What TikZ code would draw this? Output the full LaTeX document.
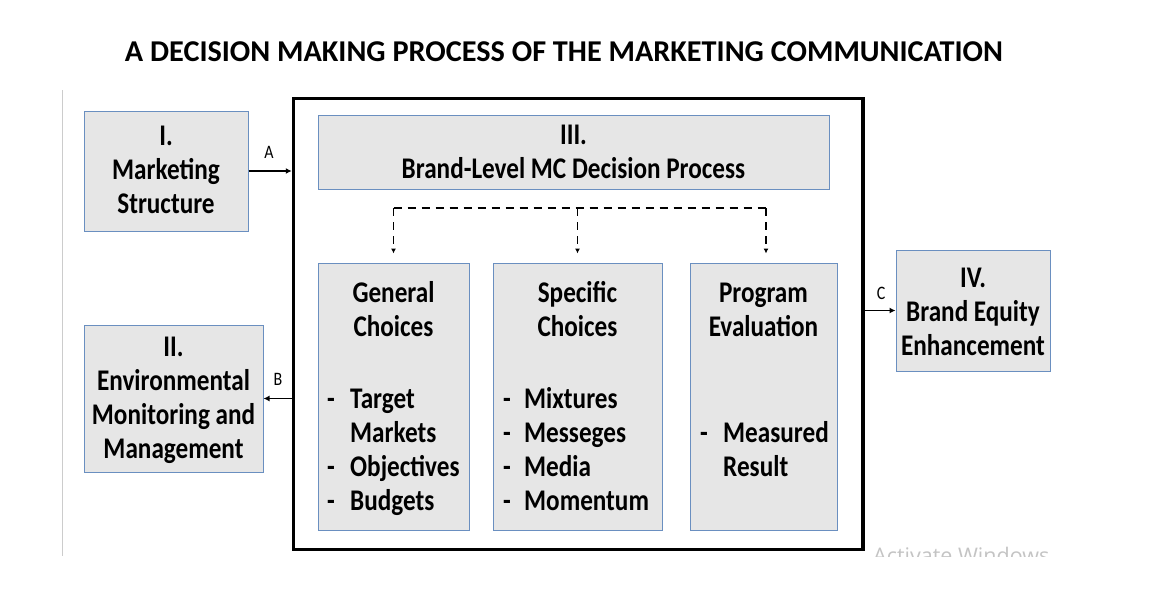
\documentclass[tikz,border=0pt]{standalone}
\usepackage{fontspec}
\setmainfont{Carlito}
\newfontfamily\bodyfont[FakeStretch=0.84]{Carlito}
\newfontfamily\wmfont{Open Sans}
\usetikzlibrary{arrows.meta}
\definecolor{boxfill}{HTML}{E6E6E6}
\definecolor{boxline}{HTML}{6A8FC0}
\definecolor{wmgray}{HTML}{C4C4C4}
\newcommand\dsh[1]{\makebox[#1][l]{-}}
\tikzset{
  box/.style={draw=boxline, fill=boxfill, line width=1pt, inner sep=0pt},
  outerbox/.style={draw=black, line width=3.5pt, inner sep=0pt},
  btxt/.style={inner sep=0pt, anchor=base, font=\bodyfont\bfseries\fontsize{30}{34}\selectfont},
  ltxt/.style={inner sep=0pt, anchor=base, font=\bodyfont\fontsize{19}{22}\selectfont},
  arr/.style={line width=1.8pt, -{Latex[length=6pt,width=6pt]}},
  dasharr/.style={line width=1.6pt, dash pattern=on 8pt off 6pt, -{Latex[length=5pt,width=5pt]}, shorten >=9pt},
  dashline/.style={line width=1.6pt, dash pattern=on 8pt off 6pt}
}
\begin{document}
\begin{tikzpicture}[x=1pt,y=-1pt]
\useasboundingbox[fill=white] (0,0) rectangle (1168,590);
% left gray rule
\draw[draw=gray!40, line width=1pt] (62,90) coordinate (r1) -- (62,556) coordinate (r2);
% title
\node[inner sep=0pt, anchor=base] (title) at (564,61)
  {\resizebox{878pt}{!}{\bfseries A DECISION MAKING PROCESS OF THE MARKETING COMMUNICATION}};
% outer frame
\node[outerbox, minimum width=569.5pt, minimum height=451pt] (outer) at (578.25,324) {};
% boxes
\node[box, minimum width=164pt, minimum height=120pt] (b1) at (166,171) {};
\node[box, minimum width=179pt, minimum height=147pt] (b2) at (173.5,398.5) {};
\node[box, minimum width=511pt, minimum height=74pt] (b3) at (573.5,152) {};
\node[box, minimum width=154pt, minimum height=121pt] (b4) at (973,310.5) {};
\node[box, minimum width=151pt, minimum height=267pt] (gc) at (393.5,396.5) {};
\node[box, minimum width=169pt, minimum height=267pt] (sc) at (577.5,396.5) {};
\node[box, minimum width=147pt, minimum height=267pt] (pe) at (763.5,396.5) {};
% box texts
\node[btxt] (t1) at (166,145) {\begin{tabular}[t]{@{}c@{}}I.\\Marketing\\Structure\end{tabular}};
\node[btxt] (t2) at (173.5,356) {\begin{tabular}[t]{@{}c@{}}II.\\Environmental\\Monitoring and\\Management\end{tabular}};
\node[btxt] (t3) at (573.5,144) {\begin{tabular}[t]{@{}c@{}}III.\\Brand-Level MC Decision Process\end{tabular}};
\node[btxt] (t4) at (973,287) {\begin{tabular}[t]{@{}c@{}}IV.\\Brand Equity\\Enhancement\end{tabular}};
\node[btxt] (tgc) at (393.5,302) {\begin{tabular}[t]{@{}c@{}}General\\Choices\end{tabular}};
\node[btxt] (tsc) at (577.5,302) {\begin{tabular}[t]{@{}c@{}}Specific\\Choices\end{tabular}};
\node[btxt] (tpe) at (763.5,302) {\begin{tabular}[t]{@{}c@{}}Program\\Evaluation\end{tabular}};
% lists
\node[btxt, anchor=base west] (lgc) at (327,408) {\begin{tabular}[t]{@{}l@{}}\dsh{23pt}Target\\\hspace*{23pt}Markets\\\dsh{23pt}Objectives\\\dsh{23pt}Budgets\end{tabular}};
\node[btxt, anchor=base west] (lsc) at (503,408) {\begin{tabular}[t]{@{}l@{}}\dsh{21pt}Mixtures\\\dsh{21pt}Messeges\\\dsh{21pt}Media\\\dsh{21pt}Momentum\end{tabular}};
\node[btxt, anchor=base west] (lpe) at (700,442) {\begin{tabular}[t]{@{}l@{}}\dsh{23pt}Measured\\\hspace*{23pt}Result\end{tabular}};
% connectors A, B, C
\draw[arr] (b1.east) -- (outer.west |- b1.east);
\node[ltxt] (la) at (269,158) {A};
\draw[arr] (outer.west |- b2.east) -- (b2.east);
\node[ltxt] (lb) at (278,385) {B};
\draw[arr] (outer.east |- b4.west) -- (b4.west);
\node[ltxt] (lc) at (881,299) {C};
% dashed distribution
\coordinate (h1) at (393.5,208);
\coordinate (h2) at (577.5,208);
\coordinate (h3) at (766,208);
\draw[dashline] (h1) -- (h3);
\draw[dasharr] (h1) -- (h1 |- gc.north);
\draw[dasharr] (h2) -- (h2 |- sc.north);
\draw[dasharr] (h3) -- (h3 |- pe.north);
% watermark (clipped as in the screenshot)
\begin{scope}
\clip (860,540) rectangle (1168,556);
\node[inner sep=0pt, anchor=base west, text=wmgray, font=\wmfont\fontsize{21.5}{24}\selectfont] (wm) at (873,563) {Activate Windows};
\end{scope}
\end{tikzpicture}
\end{document}
